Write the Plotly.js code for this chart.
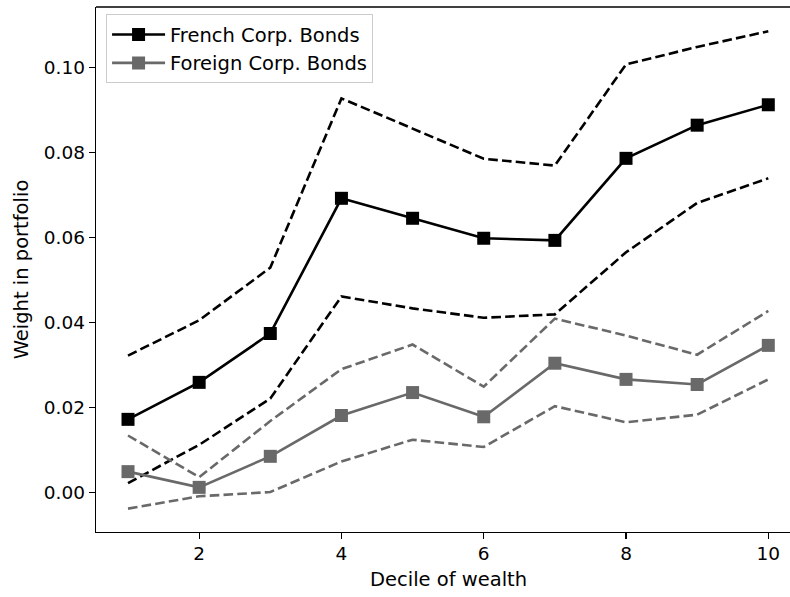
<!DOCTYPE html>
<html>
<head>
<meta charset="utf-8">
<script src="https://cdn.plot.ly/plotly-3.0.1.min.js"></script>
<style>html,body{margin:0;padding:0;background:#fff;}#chart{width:790px;height:597px;}</style>
</head>
<body>
<div id="chart"></div>
<script>
const deciles = [1, 2, 3, 4, 5, 6, 7, 8, 9, 10];
const frenchMean  = [0.0172, 0.0259, 0.0374, 0.0692, 0.0645, 0.0598, 0.0593, 0.0786, 0.0864, 0.0912];
const frenchUpper = [0.0322, 0.0405, 0.0529, 0.0927, 0.0856, 0.0785, 0.0769, 0.1007, 0.1048, 0.1085];
const frenchLower = [0.0022, 0.0112, 0.0221, 0.0461, 0.0433, 0.0411, 0.0419, 0.0565, 0.0681, 0.0739];
const foreignMean  = [0.0049, 0.0012, 0.0085, 0.0181, 0.0235, 0.0178, 0.0304, 0.0266, 0.0254, 0.0346];
const foreignUpper = [0.0134, 0.0036, 0.0168, 0.0290, 0.0348, 0.0249, 0.0409, 0.0369, 0.0324, 0.0427];
const foreignLower = [-0.0038, -0.0009, 0.0001, 0.0073, 0.0124, 0.0107, 0.0203, 0.0165, 0.0183, 0.0266];
const seriesNames = ['French Corp. Bonds', 'Foreign Corp. Bonds'];
const xTicks = [2, 4, 6, 8, 10];
const yTicks = [0, 0.02, 0.04, 0.06, 0.08, 0.10];
const yTickText = ['0.00', '0.02', '0.04', '0.06', '0.08', '0.10'];
const xTitle = 'Decile of wealth';
const yTitle = 'Weight in portfolio';

const BLACK = '#000000';
const GRAY = '#696969';
const LW = 2.6;
const DASH = '9.6px,4.2px';
const FONT = 'DejaVu Sans, sans-serif';
const FS = 19.5;

function band(y, color) {
  return {x: deciles, y: y, type: 'scatter', mode: 'lines',
    line: {color: color, width: LW, dash: DASH}, showlegend: false, hoverinfo: 'skip'};
}
function main(y, color, name, grp) {
  return {x: deciles, y: y, type: 'scatter', mode: 'lines+markers', name: name, legendgroup: grp,
    line: {color: color, width: LW},
    marker: {symbol: 'square', size: 13, color: color, line: {width: 0}}};
}

const data = [
  main(frenchMean, BLACK, seriesNames[0], 'a'),
  band(frenchUpper, BLACK),
  band(frenchLower, BLACK),
  main(foreignMean, GRAY, seriesNames[1], 'b'),
  band(foreignUpper, GRAY),
  band(foreignLower, GRAY)
];

const layout = {
  width: 790, height: 597,
  margin: {l: 96, r: 0, t: 7, b: 65, pad: 0},
  paper_bgcolor: '#ffffff', plot_bgcolor: '#ffffff',
  font: {family: FONT, size: FS, color: '#000'},
  showlegend: true,
  legend: {x: 0.0145, y: 0.986, xanchor: 'left', yanchor: 'top',
    bgcolor: 'rgba(255,255,255,0.8)', bordercolor: '#cccccc', borderwidth: 1,
    font: {family: FONT, size: FS, color: '#000'}, itemwidth: 53,
    traceorder: 'grouped', tracegroupgap: 0},
  xaxis: {
    range: [0.55, 10.305], tickvals: xTicks, ticktext: xTicks.map(String),
    showgrid: false, zeroline: false, showline: true, linecolor: '#000', linewidth: 1.3,
    mirror: false, ticks: 'outside', ticklen: 6, tickwidth: 1.3, tickcolor: '#000',
    tickfont: {family: FONT, size: 18.5}, ticklabelstandoff: -2,
    automargin: false
  },
  yaxis: {
    range: [-0.0093, 0.1142], tickvals: yTicks, ticktext: yTickText,
    showgrid: false, zeroline: false, showline: true, linecolor: '#000', linewidth: 1.3,
    ticks: 'outside', ticklen: 6, tickwidth: 1.3, tickcolor: '#000',
    tickfont: {family: FONT, size: 18.5},
    title: {text: yTitle, font: {family: FONT, size: FS}, standoff: 10},
    automargin: false
  },
  annotations: [{text: xTitle, xref: 'paper', yref: 'paper', x: 0.508, y: -0.0905,
    xanchor: 'center', yanchor: 'middle', showarrow: false,
    font: {family: FONT, size: FS, color: '#000'}}],
  shapes: [{type: 'line', xref: 'paper', yref: 'paper', x0: 0, x1: 1, y0: 1, y1: 1,
    line: {color: '#000', width: 1.3}}]
};

Plotly.newPlot('chart', data, layout, {displayModeBar: false, staticPlot: true});
</script>
</body>
</html>
